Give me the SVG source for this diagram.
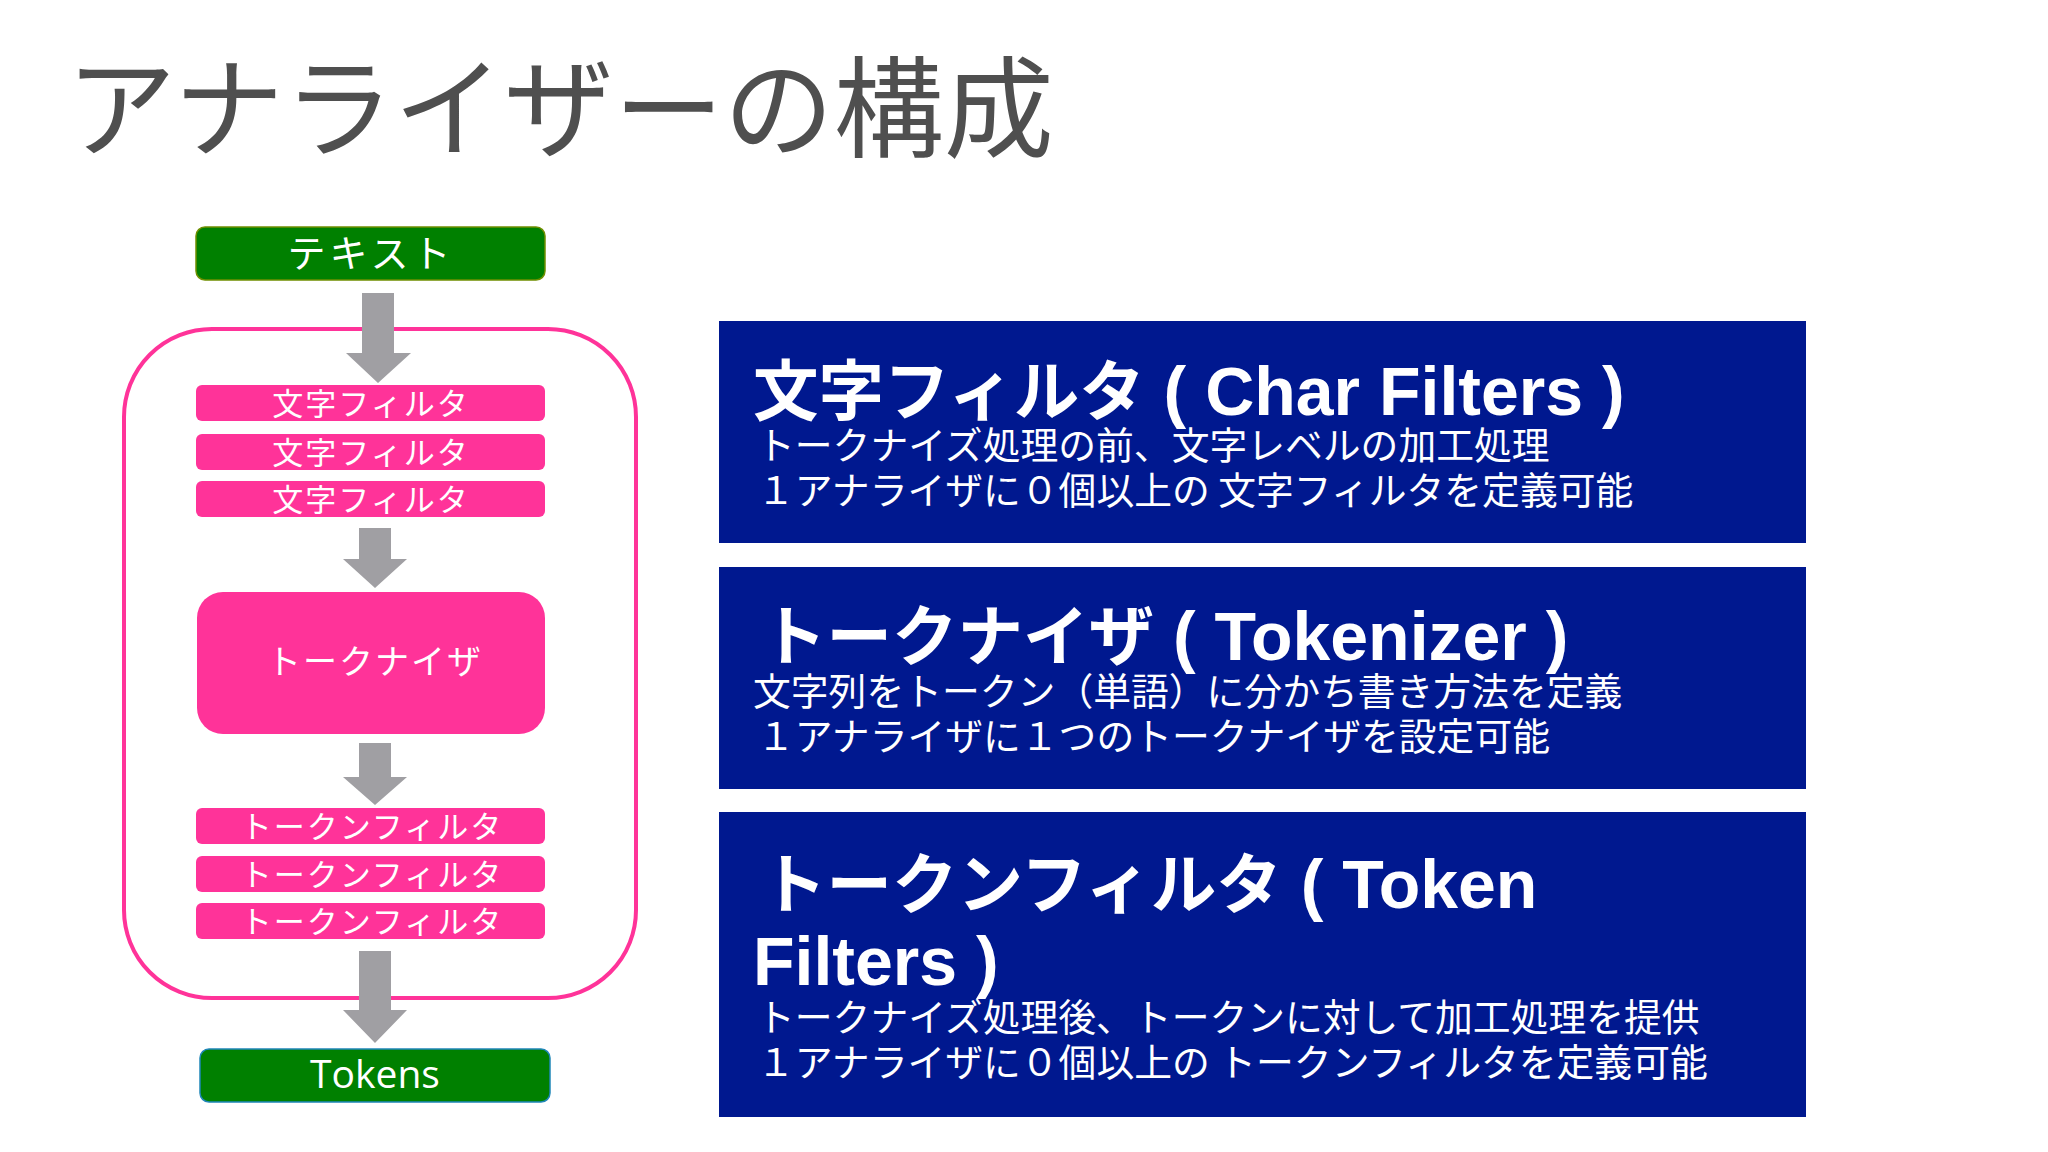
<svg xmlns="http://www.w3.org/2000/svg" width="2048" height="1152" viewBox="0 0 2048 1152">
  <style>
    .title { font-family: "Noto Sans CJK JP", sans-serif; font-size: 110px; fill: #4f4f4f; font-weight: 400; }
    .green { fill: #008000; }
    .pink { fill: #ff3399; }
    .lbl { font-family: "Noto Sans CJK JP", sans-serif; fill: #ffffff; text-anchor: middle; }
    .small { font-size: 31px; letter-spacing: 2px; }
    .arrow { fill: #a09fa3; }
    .panel { fill: #00188f; }
    .head { font-family: "Liberation Sans", "Noto Sans CJK JP", sans-serif; font-weight: 700; font-size: 68px; fill: #ffffff; }
    .headj { font-family: "Noto Sans CJK JP", sans-serif; font-weight: 700; font-size: 65.5px; }
    .body { font-family: "Noto Sans CJK JP", sans-serif; font-size: 37.8px; fill: #ffffff; }
  </style>
  <rect width="2048" height="1152" fill="#ffffff"/>

  <text class="title" x="66" y="149">アナライザーの構成</text>

  <g id="analyzer-frame">
    <rect x="124" y="329" width="512" height="669" rx="88" ry="88" fill="none" stroke="#ff3399" stroke-width="4"/>
  </g>

  <g id="connectors">
    <polygon class="arrow" points="362,293 394,293 394,353 411,353 378,383 346,353 362,353"/>
    <polygon class="arrow" points="359,528 391,528 391,559 407,559 375,588 343,559 359,559"/>
    <polygon class="arrow" points="359,743 391,743 391,777 407,777 375,805 343,777 359,777"/>
    <polygon class="arrow" points="359,951 391,951 391,1010 407,1010 375,1043 343,1010 359,1010"/>
  </g>

  <g id="node-text">
    <rect class="green" x="196" y="227" width="349" height="53" rx="9" stroke="#6f8f00" stroke-width="1.5"/>
    <text class="lbl" x="371" y="267" font-size="38" letter-spacing="4">テキスト</text>
  </g>

  <g id="node-charfilter-1">
    <rect class="pink" x="196" y="385" width="349" height="36" rx="6"/>
    <text class="lbl small" x="371" y="415">文字フィルタ</text>
  </g>
  <g id="node-charfilter-2">
    <rect class="pink" x="196" y="434" width="349" height="36" rx="6"/>
    <text class="lbl small" x="371" y="464">文字フィルタ</text>
  </g>
  <g id="node-charfilter-3">
    <rect class="pink" x="196" y="481" width="349" height="36" rx="6"/>
    <text class="lbl small" x="371" y="511">文字フィルタ</text>
  </g>

  <g id="node-tokenizer">
    <rect class="pink" x="197" y="592" width="348" height="142" rx="26"/>
    <text class="lbl" x="375" y="674" font-size="34" letter-spacing="2">トークナイザ</text>
  </g>

  <g id="node-tokenfilter-1">
    <rect class="pink" x="196" y="808" width="349" height="36" rx="6"/>
    <text class="lbl small" x="372" y="838">トークンフィルタ</text>
  </g>
  <g id="node-tokenfilter-2">
    <rect class="pink" x="196" y="856" width="349" height="36" rx="6"/>
    <text class="lbl small" x="372" y="886">トークンフィルタ</text>
  </g>
  <g id="node-tokenfilter-3">
    <rect class="pink" x="196" y="903" width="349" height="36" rx="6"/>
    <text class="lbl small" x="372" y="933">トークンフィルタ</text>
  </g>

  <g id="node-tokens">
    <rect class="green" x="200" y="1049" width="350" height="53" rx="9" stroke="#1f86b8" stroke-width="1.5"/>
    <text class="lbl" x="375" y="1088" font-size="39" style="font-family: 'Open Sans', 'Noto Sans', sans-serif;">Tokens</text>
  </g>

  <g id="panel-charfilters">
    <rect class="panel" x="719" y="321" width="1087" height="222"/>
    <text class="head" x="753" y="415"><tspan class="headj">文字フィルタ</tspan> ( Char Filters )</text>
    <text class="body" x="757" y="459">トークナイズ処理の前、文字レベルの加工処理</text>
    <text class="body" x="757" y="504">１アナライザに０個以上の 文字フィルタを定義可能</text>
  </g>

  <g id="panel-tokenizer">
    <rect class="panel" x="719" y="567" width="1087" height="222"/>
    <text class="head" x="761" y="660"><tspan class="headj">トークナイザ</tspan> ( Tokenizer )</text>
    <text class="body" x="753" y="705">文字列をトークン（単語）に分かち書き方法を定義</text>
    <text class="body" x="757" y="750">１アナライザに１つのトークナイザを設定可能</text>
  </g>

  <g id="panel-tokenfilters">
    <rect class="panel" x="719" y="812" width="1087" height="305"/>
    <text class="head" x="761" y="908"><tspan class="headj">トークンフィルタ</tspan> ( Token</text>
    <text class="head" x="753" y="985">Filters )</text>
    <text class="body" x="757" y="1031">トークナイズ処理後、トークンに対して加工処理を提供</text>
    <text class="body" x="757" y="1076">１アナライザに０個以上の トークンフィルタを定義可能</text>
  </g>
</svg>
